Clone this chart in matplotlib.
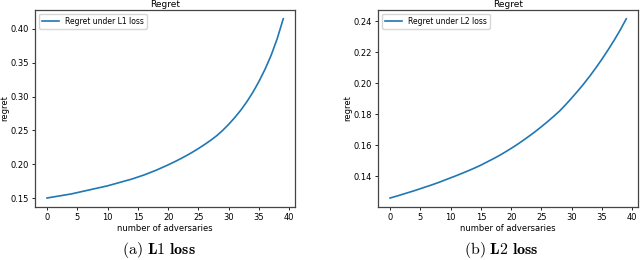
import matplotlib.pyplot as plt

plt.rcParams['mathtext.fontset'] = 'cm'

# adversaries 0..39
x = list(range(40))

# regret under L1 loss
l1 = [0.1500, 0.1515, 0.1530, 0.1545, 0.1560, 0.1580, 0.1600, 0.1620, 0.1640, 0.1660,
      0.1680, 0.1705, 0.1730, 0.1755, 0.1780, 0.1810, 0.1840, 0.1875, 0.1910, 0.1950,
      0.1990, 0.2033, 0.2078, 0.2126, 0.2177, 0.2232, 0.2290, 0.2352, 0.2420, 0.2500,
      0.2590, 0.2690, 0.2800, 0.2925, 0.3065, 0.3225, 0.3405, 0.3610, 0.3855, 0.4150]

# regret under L2 loss
l2 = [0.1260, 0.1271, 0.1283, 0.1295, 0.1307, 0.1320, 0.1333, 0.1346, 0.1360, 0.1375,
      0.1390, 0.1405, 0.1421, 0.1437, 0.1454, 0.1472, 0.1492, 0.1512, 0.1533, 0.1556,
      0.1580, 0.1605, 0.1632, 0.1660, 0.1689, 0.1720, 0.1752, 0.1786, 0.1821, 0.1862,
      0.1905, 0.1950, 0.1997, 0.2047, 0.2100, 0.2156, 0.2215, 0.2277, 0.2343, 0.2415]

l1_ticks = [0.15, 0.20, 0.25, 0.30, 0.35, 0.40]
l2_ticks = [0.14, 0.16, 0.18, 0.20, 0.22, 0.24]

fig = plt.figure(figsize=(6.4, 2.6), dpi=100)
ax1 = fig.add_axes([0.055, 0.204, 0.406, 0.758])
ax2 = fig.add_axes([0.591, 0.204, 0.406, 0.758])

panels = [(ax1, l1, "Regret under L1 loss", l1_ticks, r"$\mathrm{(a)}\ \mathbf{L1\ loss}$"),
          (ax2, l2, "Regret under L2 loss", l2_ticks, r"$\mathrm{(b)}\ \mathbf{L2\ loss}$")]

for ax, y, lab, yt, cap in panels:
    ax.plot(x, y, color="#1f77b4", lw=1.2, label=lab)
    ax.set_title("Regret", fontsize=6.5, pad=2)
    ax.set_xlabel("number of adversaries", fontsize=6, labelpad=1)
    ax.set_ylabel("regret", fontsize=6, labelpad=1)
    ax.set_xticks([0, 5, 10, 15, 20, 25, 30, 35, 40])
    ax.set_yticks(yt)
    ax.tick_params(labelsize=6, length=2.5, width=0.6, pad=2)
    for s in ax.spines.values():
        s.set_color("#444444")
        s.set_linewidth(0.9)
    ax.legend(loc="upper left", fontsize=5.5, handlelength=2.2, borderpad=0.4)
    pos = ax.get_position()
    fig.text(pos.x0 + pos.width / 2 - 0.01, 0.04, cap, fontsize=11.5, ha="center", va="center")

fig.savefig("out.png", dpi=100)
